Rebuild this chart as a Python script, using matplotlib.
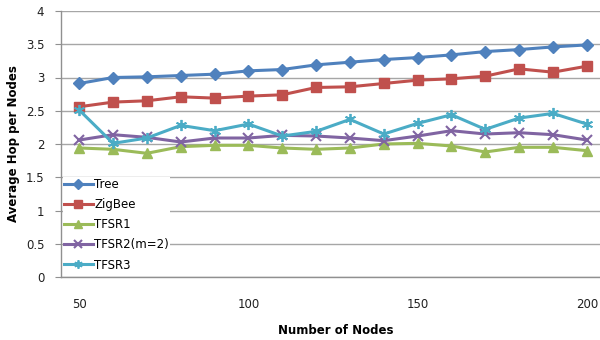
import matplotlib
matplotlib.use("Agg")
import matplotlib.pyplot as plt

nodes = [50, 60, 70, 80, 90, 100, 110, 120, 130, 140, 150, 160, 170, 180, 190, 200]
tree = [2.91, 3.00, 3.01, 3.03, 3.05, 3.10, 3.12, 3.19, 3.23, 3.27, 3.30, 3.34, 3.39, 3.42, 3.46, 3.49]
zigbee = [2.56, 2.63, 2.65, 2.71, 2.69, 2.72, 2.74, 2.85, 2.86, 2.91, 2.96, 2.98, 3.02, 3.13, 3.08, 3.17]
tfsr1 = [1.94, 1.92, 1.86, 1.96, 1.98, 1.98, 1.94, 1.92, 1.94, 2.00, 2.01, 1.97, 1.88, 1.95, 1.95, 1.90]
tfsr2 = [2.06, 2.14, 2.10, 2.03, 2.09, 2.09, 2.13, 2.12, 2.09, 2.05, 2.12, 2.20, 2.15, 2.17, 2.14, 2.06]
tfsr3 = [2.51, 2.01, 2.09, 2.28, 2.20, 2.30, 2.12, 2.19, 2.37, 2.15, 2.31, 2.44, 2.22, 2.39, 2.46, 2.30]
x_ticks = [50, 100, 150, 200]
y_ticks = [0, 0.5, 1, 1.5, 2, 2.5, 3, 3.5, 4]
y_tick_labels = ["0", "0.5", "1", "1.5", "2", "2.5", "3", "3.5", "4"]

plt.rcParams['font.family'] = ['DejaVu Sans']

fig = plt.figure(figsize=(6, 3.4), dpi=100)
ax = fig.add_axes([61/600, 1 - 277/340, 539/600, (277 - 11)/340])

series = [
    ("Tree", tree, "#4F81BD", "D", 6.5, None),
    ("ZigBee", zigbee, "#C0504D", "s", 7, None),
    ("TFSR1", tfsr1, "#9BBB59", "^", 7.5, None),
    ("TFSR2(m=2)", tfsr2, "#8064A2", "x", 7, 1.5),
    ("TFSR3", tfsr3, "#4BACC6", (6, 2, 0), 8, 1.3),
]
for name, vals, col, mk, ms, mew in series:
    kw = {}
    if mew is not None:
        kw["markeredgewidth"] = mew
    ax.plot(nodes, vals, color=col, marker=mk, markersize=ms, linewidth=2.2,
            markerfacecolor=col, markeredgecolor=col, label=name, **kw)

ax.set_xlim(44.6, 203.9)
ax.set_ylim(0, 4)
ax.set_yticks(y_ticks)
ax.set_yticklabels(y_tick_labels)
ax.set_xticks(x_ticks)
ax.set_xticklabels([str(v) for v in x_ticks])
ax.grid(axis="y", color="#A6A6A6", linewidth=1.0)
ax.set_axisbelow(True)
for s in ["top", "right"]:
    ax.spines[s].set_visible(False)
for s in ["left", "bottom"]:
    ax.spines[s].set_color("#909090")
    ax.spines[s].set_linewidth(1.0)
    ax.spines[s].set_zorder(10)
ax.tick_params(axis="y", length=4, color="#909090", labelsize=8.5, pad=8)
ax.tick_params(axis="x", length=0, labelsize=8.5, pad=15)
for t in ax.get_xticklabels() + ax.get_yticklabels():
    t.set_color("#202020")

ax.set_ylabel("Average Hop per Nodes", fontsize=8.5, fontweight="bold", labelpad=4)
fig.text(336/600, 1 - 330/340, "Number of Nodes", fontsize=8.5, fontweight="bold",
         ha="center", va="center")

leg = ax.legend(loc="upper left", bbox_to_anchor=(63/600, 1 - 177/340),
                bbox_transform=fig.transFigure, frameon=True, fancybox=False,
                edgecolor="none", facecolor="white", framealpha=1.0,
                fontsize=8.5, handlelength=2.4, handletextpad=0.15,
                labelspacing=0.6, borderpad=0.1, borderaxespad=0, markerscale=0.75)

fig.savefig("out.png", dpi=100)
